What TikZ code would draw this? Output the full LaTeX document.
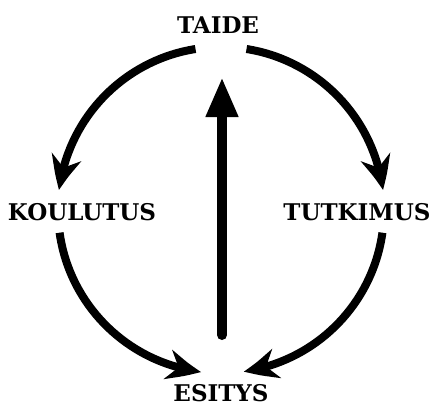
\documentclass[tikz,border=0pt]{standalone}
\usepackage{fontspec}
\setmainfont{DejaVu Serif}
\usetikzlibrary{arrows.meta,calc,bending}
\begin{document}
\begin{tikzpicture}[x=1pt,y=1pt,
  lbl/.style={inner sep=0pt,font=\bfseries\fontsize{23}{23}\selectfont},
  cyc/.style={line width=8pt,-{Stealth[length=34pt,width=30pt,inset=11pt,bend]}},
  up/.style={line width=10pt,line cap=round,-{Triangle[length=40pt,width=30pt]}}]
\useasboundingbox (0,0) rectangle (433,408);
\coordinate (C) at (221,198);
\node[lbl] (taide) at (218,383) {TAIDE};
\node[lbl] (koulutus) at (82,196) {KOULUTUS};
\node[lbl] (tutkimus) at (357,196) {TUTKIMUS};
\node[lbl] (esitys) at (221,15) {ESITYS};
\coordinate (tl) at ($(C)+(99:163)$);
\coordinate (tr) at ($(C)+(81:163)$);
\coordinate (bl) at ($(C)+(188:163)$);
\coordinate (br) at ($(C)+(352:163)$);
\draw[cyc] (tl) arc[start angle=99,end angle=173,radius=163];
\draw[cyc] (tr) arc[start angle=81,end angle=7,radius=163];
\draw[cyc] (bl) arc[start angle=188,end angle=263,radius=163];
\draw[cyc] (br) arc[start angle=352,end angle=278,radius=163];
\coordinate (vb) at (222,73);
\coordinate (vt) at (222,331);
\draw[up] (vb) -- (vt);
\end{tikzpicture}
\end{document}
